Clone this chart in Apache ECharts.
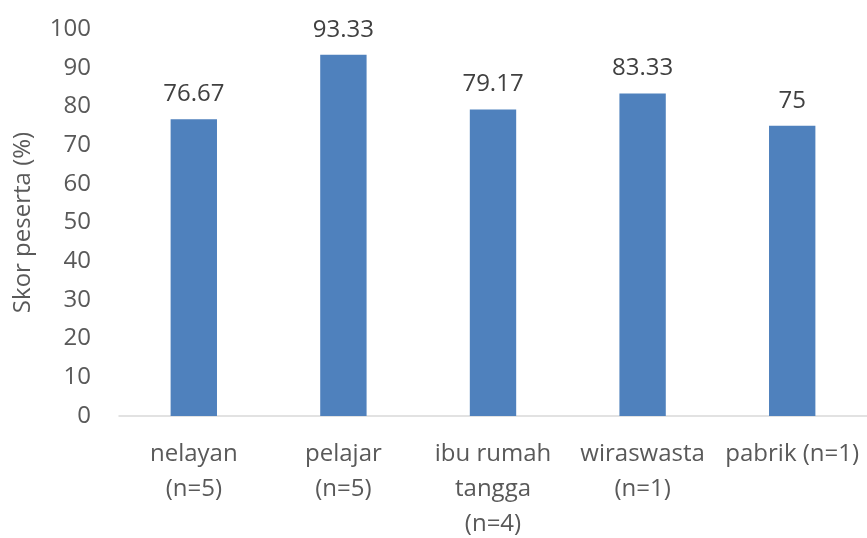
<!DOCTYPE html>
<html>
<head>
<meta charset="utf-8">
<script src="https://cdn.jsdelivr.net/npm/echarts@6/dist/echarts.min.js"></script>
<style>
  html, body { margin: 0; padding: 0; background: #fff; }
  #chart { width: 867px; height: 538px; }
</style>
</head>
<body>
<div id="chart"></div>
<script>
// data
var categories = ['nelayan\n(n=5)', 'pelajar\n(n=5)', 'ibu rumah\ntangga\n(n=4)', 'wiraswasta\n(n=1)', 'pabrik (n=1)'];
var scores = [76.67, 93.33, 79.17, 83.33, 75];
var yTicks = { min: 0, max: 100, interval: 10 };

var myChart = echarts.init(document.getElementById('chart'));

var font = '"Open Sans", "Noto Sans", sans-serif';

var option = {
    animation: false,
    grid: { left: 119, right: 0, top: 29, bottom: 122, outerBoundsMode: 'none' },
    xAxis: {
        type: 'category',
        data: categories,
        axisLine: { lineStyle: { color: '#d9d9d9', width: 1.5 } },
        axisTick: { show: false },
        axisLabel: {
            interval: 0,
            color: '#595959',
            fontFamily: font,
            fontSize: 24,
            lineHeight: 35,
            margin: 21
        }
    },
    yAxis: {
        type: 'value',
        min: yTicks.min,
        max: yTicks.max,
        interval: yTicks.interval,
        name: 'Skor peserta (%)',
        nameLocation: 'middle',
        nameGap: 84,
        nameTextStyle: { color: '#595959', fontFamily: font, fontSize: 24 },
        axisLine: { show: false },
        axisTick: { show: false },
        splitLine: { show: false },
        axisLabel: { color: '#595959', fontFamily: font, fontSize: 24, margin: 28 }
    },
    series: [{
        type: 'bar',
        data: scores,
        barWidth: '31%',
        itemStyle: { color: '#4f81bd' },
        label: {
            show: true,
            position: 'top',
            distance: 13,
            color: '#404040',
            fontFamily: font,
            fontSize: 24
        }
    }]
};

myChart.setOption(option);
</script>
</body>
</html>
